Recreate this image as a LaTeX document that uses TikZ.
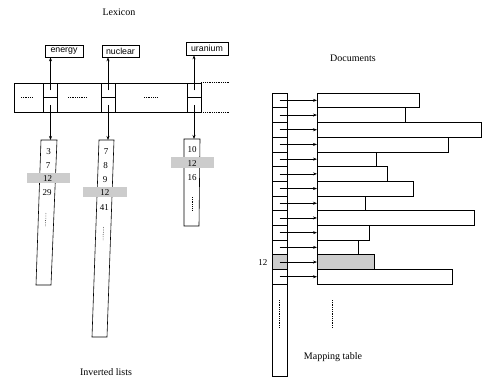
\documentclass[tikz,border=0pt]{standalone}
\usepackage{fontspec}
\setmainfont{Liberation Serif}
\newfontfamily\wordfont{Liberation Sans}
\usetikzlibrary{arrows.meta}
\begin{document}
\begin{tikzpicture}[x=1pt,y=-1pt,line width=0.6pt,
  arr/.style={-{Stealth[length=4pt,width=3pt]}},
  word/.style={draw,font=\wordfont\fontsize{8.8}{10}\selectfont,inner sep=0pt,minimum height=12},
  cell/.style={draw,minimum width=14,minimum height=14.5,inner sep=0pt},
  band/.style={fill=gray!40,inner sep=0pt,minimum height=10.5},
  num/.style={font=\fontsize{9}{10}\selectfont,inner sep=0pt},
  lbl/.style={font=\fontsize{10}{12}\selectfont,inner sep=0pt},
  trow/.style={draw,minimum width=15,minimum height=14.7,inner sep=0pt},
  drow/.style={draw,anchor=west,minimum height=14.7,inner sep=0pt},
  fdots/.style={dash pattern=on 0.6pt off 1.2pt,line width=0.5pt}]
\useasboundingbox (0,0) rectangle (483,381);

% ---------- Lexicon ----------
\node[lbl] (lexlbl) at (119,12) {Lexicon};
\node[word,minimum width=38] (energy) at (64,51) {energy};
\node[word,minimum width=37] (nuclear) at (120.5,51) {nuclear};
\node[word,minimum width=42,minimum height=13] (uranium) at (207,48.5) {uranium};

\node[draw,minimum width=187,minimum height=29,inner sep=0pt] (bar) at (107.5,97.5) {};
\node[cell] (c1u) at (50.5,90.25) {};
\node[cell] (c1l) at (50.5,104.75) {};
\node[cell] (c2u) at (108,90.25) {};
\node[cell] (c2l) at (108,104.75) {};
\node[cell] (c3u) at (194,90.25) {};
\node[cell] (c3l) at (194,104.75) {};
\draw[fdots] (bar.north east) -- ++(28,0);
\draw[fdots] (bar.south east) -- ++(28,0);
\draw[fdots] (21,97.5) -- (33,97.5);
\draw[fdots] (68,97.5) -- (87,97.5);
\draw[fdots] (144,97.5) -- (157,97.5);

\draw[arr] (c1u.center) -- (c1u.center |- energy.south);
\draw[arr] (c2u.center) -- (c2u.center |- nuclear.south);
\draw[arr] (c3u.center) -- (c3u.center |- uranium.south);

% ---------- Inverted lists ----------
\coordinate (l1top) at (50.5,140);
\coordinate (l2top) at (108,140);
\coordinate (l3top) at (194,139);
\draw (41,140) -- (57,140) -- (51,285) -- (36,285) -- cycle;
\draw (99,140) -- (114,140) -- (107,337) -- (92,337) -- cycle;
\draw (184,139) -- (200,139) -- (199,226) -- (184,226) -- cycle;
\draw[arr] (c1l.center) -- (l1top);
\draw[arr] (c2l.center) -- (l2top);
\draw[arr] (c3l.center) -- (l3top);

\node[band,minimum width=43] (b1) at (48.5,178) {};
\node[band,minimum width=44] (b2) at (105,192) {};
\node[band,minimum width=43] (b3) at (192.5,162.5) {};

\node[num] (n11) at (48.5,152) {3};
\node[num] (n12) at (48,165.5) {7};
\node[num] (n13) at (47.5,179) {12};
\node[num] (n14) at (47,193) {29};
\draw[fdots] (46,213) -- (45.5,227);

\node[num] (n21) at (106,152) {7};
\node[num] (n22) at (105.6,166) {8};
\node[num] (n23) at (105.2,179.5) {9};
\node[num] (n24) at (104.8,193) {12};
\node[num] (n25) at (104.3,207.5) {41};
\draw[fdots] (103.5,227) -- (103,240);

\node[num] (n31) at (192,149.5) {10};
\node[num] (n32) at (192,163.5) {12};
\node[num] (n33) at (192,177.5) {16};
\draw[fdots] (192,197) -- (192,210);

\node[lbl] (invlbl) at (106,372) {Inverted lists};

% ---------- Documents / mapping table ----------
\node[lbl] (doclbl) at (353,58) {Documents};
\node[draw,minimum width=15,minimum height=283,inner sep=0pt] (tab) at (279.5,234.5) {};
\foreach \i/\r/\f in {1/419/white,2/405/white,3/481/white,4/448/white,5/376/white,
    6/387/white,7/413/white,8/365/white,9/474/white,10/369/white,11/358/white,
    12/374/gray!40,13/452/white} {
  \pgfmathsetmacro\yc{93+14.7*(\i-0.5)}
  \pgfmathsetmacro\dw{\r-317}
  \node[trow,fill=\f] (t\i) at (279.5,\yc) {};
  \node[drow,fill=\f,minimum width=\dw] (d\i) at (317,\yc) {};
  \draw[arr] (t\i.center) -- (d\i.west);
}
\node[num,anchor=east] (lbl12) at ([xshift=-4pt]t12.west) {12};
\draw[fdots] (279.5,300) -- (279.5,328);
\draw[fdots] (332,300) -- (332,328);
\node[lbl] (maplbl) at (333,357) {Mapping table};
\end{tikzpicture}
\end{document}
